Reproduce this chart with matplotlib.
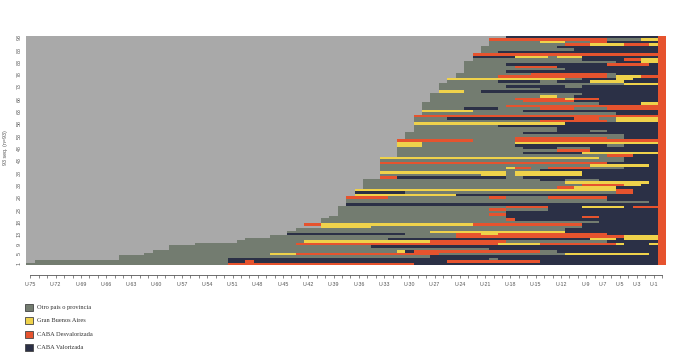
import numpy as np
import matplotlib
matplotlib.use('Agg')
import matplotlib.pyplot as plt
from matplotlib.colors import ListedColormap
from matplotlib.patches import Rectangle

# states: G = sin dato (left padding), O, Y, R, N
state_codes = ['G', 'O', 'Y', 'R', 'N']
state_colors = ['#A9A9A9', '#737C70', '#EFD24B', '#E6532E', '#2B3046']
legend_labels = ['Otro país o provincia', 'Gran Buenos Aires',
                 'CABA Desvalorizada', 'CABA Valorizada']

n_cols = 76
shown_xlabels = [75, 72, 69, 66, 63, 60, 57, 54, 51, 48, 45, 42, 39, 36, 33,
                 30, 27, 24, 21, 18, 15, 12, 9, 7, 5, 3, 1]
ytick_labels = [1, 5, 9, 13, 18, 23, 28, 33, 38, 43, 48, 53, 58, 63, 68, 73,
                78, 83, 88, 93]

# one string per sequence, top of the plot first; token = state + last column
seq_rows = [
    "G56 N74 R75",
    "G54 R68 O72 Y74 R75",
    "G54 O60 Y63 O66 R68 N74 R75",
    "G54 O63 R66 Y70 R73 Y74 R75",
    "G53 O62 N74 R75",
    "G53 O64 N74 R75",
    "G53 O55 N74 R75",
    "G52 R75",
    "G52 N57 Y61 O62 Y65 N74 R75",
    "G52 O65 N70 R72 Y74 R75",
    "G51 O69 N72 Y74 R75",
    "G51 O56 N68 R73 N74 R75",
    "G51 O57 R62 N74 R75",
    "G51 O63 N74 R75",
    "G51 O56 N74 R75",
    "G50 O59 R68 O69 N74 R75",
    "G50 O55 R68 O69 Y72 R75",
    "G49 Y63 O65 N69 Y71 N74 R75",
    "G49 O55 N60 O62 N66 Y70 N74 R75",
    "G48 O70 Y74 R75",
    "G48 O56 N63 O65 N74 R75",
    "G48 O60 N74 R75",
    "G48 Y51 O53 N74 R75",
    "G47 O65 N74 R75",
    "G47 O60 Y62 O64 N74 R75",
    "G47 O57 R63 Y64 R67 N74 R75",
    "G47 O58 R64 N74 R75",
    "G46 O67 N72 Y74 R75",
    "G46 O56 R75",
    "G46 O51 N55 O60 R64 O68 R75",
    "G46 Y52 O58 N74 R75",
    "G46 O69 N74 R75",
    "G45 R75",
    "G45 O49 N64 R67 O69 Y74 R75",
    "G45 O60 R68 O69 Y74 R75",
    "G45 Y63 N74 R75",
    "G45 O55 N74 R75",
    "G45 O62 N74 R75",
    "G45 O62 N66 O68 N74 R75",
    "G44 O58 N74 R75",
    "G44 O70 N74 R75",
    "G44 O57 R68 O70 N74 R75",
    "G43 R52 O57 R75",
    "G43 Y46 O57 Y74 R75",
    "G43 Y46 O57 N68 O70 N74 R75",
    "G43 O58 N62 O66 N74 R75",
    "G43 O62 R66 N74 R75",
    "G43 O58 N65 Y74 R75",
    "G43 O68 R71 N74 R75",
    "G41 Y67 O70 N74 R75",
    "G41 O70 N74 R75",
    "G41 R68 N74 R75",
    "G41 O66 Y73 N74 R75",
    "G41 O56 Y57 R59 O61 R66 O70 N74 R75",
    "G41 O60 N74 R75",
    "G41 Y56 O57 Y65 N74 R75",
    "G41 O53 Y56 O57 Y65 N74 R75",
    "G41 R43 N56 O58 N74 R75",
    "G39 O60 N63 O67 N74 R75",
    "G39 O63 Y73 N74 R75",
    "G39 O65 R70 Y72 N74 R75",
    "G39 O62 R64 Y69 N74 R75",
    "G38 Y69 R71 N74 R75",
    "G38 N44 O69 R71 N74 R75",
    "G38 Y50 N74 R75",
    "G37 R42 O54 R56 O61 R68 N74 R75",
    "G37 O68 N74 R75",
    "G37 O73 N74 R75",
    "G37 N74 R75",
    "G36 O56 R61 N65 Y70 N71 R75",
    "G36 O54 R56 O61 N74 R75",
    "G36 O56 N74 R75",
    "G36 O54 R56 N74 R75",
    "G35 O56 N65 R67 N74 R75",
    "G34 O56 R57 N74 R75",
    "G34 O67 N74 R75",
    "G32 R34 Y52 R65 N74 R75",
    "G34 Y40 O65 N74 R75",
    "G31 O63 N74 R75",
    "G30 O47 Y63 N74 R75",
    "G30 N44 O50 R53 Y55 R68 N74 R75",
    "G28 O50 R70 Y74 R75",
    "G25 O42 N66 Y69 N70 Y74 R75",
    "G24 O32 Y47 R56 O68 N74 R75",
    "G19 O31 R55 Y60 R69 Y70 N73 Y74 R75",
    "G16 O40 N74 R75",
    "G16 O54 N74 R75",
    "G14 O43 Y44 N45 R60 O62 N74 R75",
    "G13 O28 Y31 R48 O63 Y73 N74 R75",
    "G10 O47 N74 R75",
    "G10 O23 N54 O55 N74 R75",
    "G0 O23 N25 R26 N49 R60 N74 R75",
    "O23 R45 N74 R75",
]


def expand(row):
    out = []
    for tok in row.split():
        st, last = tok[0], int(tok[1:])
        out += [state_codes.index(st)] * (last + 1 - len(out))
    return out


mat = np.array([expand(r) for r in seq_rows[::-1]])  # first row = seq 1 (bottom)
n_seq = mat.shape[0]

fig = plt.figure(figsize=(6.79, 3.6), dpi=100)
ax = fig.add_axes([26.2 / 679, 1 - 265 / 360, 640 / 679, 229 / 360])

cmap = ListedColormap(state_colors)
ax.pcolormesh(np.arange(n_cols + 1), np.arange(n_seq + 1), mat, cmap=cmap,
              vmin=-0.5, vmax=len(state_codes) - 0.5, edgecolors='none')
ax.set_xlim(0, n_cols)
ax.set_ylim(0, n_seq)

for s in ['top', 'right', 'left']:
    ax.spines[s].set_visible(False)
ax.spines['bottom'].set_position(('outward', 7))
ax.spines['bottom'].set_bounds(0.5, n_cols - 0.5)
ax.spines['bottom'].set_color('#555555')
ax.spines['bottom'].set_linewidth(0.6)

xpos = np.arange(n_cols) + 0.5
xlabs = []
for c in range(n_cols):
    u = 75 - c
    xlabs.append(f'U-{u}' if u in shown_xlabels else '')
ax.set_xticks(xpos)
ax.set_xticklabels(xlabs, fontsize=3.8, color='#555555', family='Liberation Sans')
ax.tick_params(axis='x', length=2, width=0.5, color='#555555', pad=3)

ax.set_yticks(np.array(ytick_labels) - 0.5)
ax.set_yticklabels([str(v) for v in ytick_labels], rotation=90, va='center',
                   fontsize=3.8, color='#555555', family='Liberation Sans')
ax.tick_params(axis='y', length=0, pad=3)

fig.text(6 / 679, 1 - 148 / 360, f'{n_seq} seq. (n={n_seq})', rotation=90,
         ha='center', va='center', fontsize=3.8, color='#555555',
         family='Liberation Sans')

# legend
for i, lab in enumerate(legend_labels):
    yc = 307.5 + i * 13.4
    fig.add_artist(Rectangle((25 / 679, 1 - (yc + 3.5) / 360), 8 / 679, 7 / 360,
                             transform=fig.transFigure, facecolor=state_colors[i + 1],
                             edgecolor='#444444', linewidth=0.6))
    fig.text(37 / 679, 1 - yc / 360, lab, ha='left', va='center', fontsize=4.6,
             color='#333333', family='Liberation Serif')

fig.savefig('out.png', dpi=100)
